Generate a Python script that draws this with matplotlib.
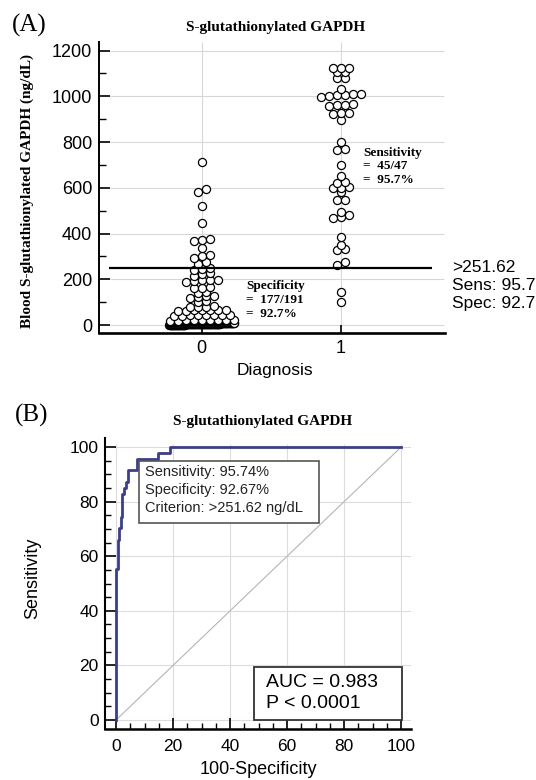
import matplotlib
matplotlib.use("Agg")
import matplotlib.pyplot as plt
import numpy as np
from matplotlib.patches import Rectangle
from matplotlib.ticker import MultipleLocator

SERIF = "Liberation Serif"
SANS = "Liberation Sans"
plt.rcParams["font.family"] = [SANS, "DejaVu Sans"]

# --- (A) dot plot data, ng/dL ---
# diagnosis 0 (191 subjects)
neg_high = [715, 580, 594, 521, 448, 366, 370, 378, 336, 294, 300, 306, 266, 274]
neg_mid = [242, 245, 248, 216, 222, 228, 190, 193, 195, 197, 199,
           160, 164, 166, 141, 145, 120, 122, 125, 128, 100, 104,
           77, 79, 81, 84, 62, 63, 64, 65, 66, 67, 68,
           40, 41, 42, 43, 44, 44, 45, 46,
           18, 19, 20, 21, 21, 22, 22, 23, 24]
neg_low = [0.4, 0.6, 0.8, 1.0, 1.1, 1.3, 1.5, 1.6, 1.8, 2.0,
           2.1, 2.2, 2.4, 2.5, 2.7, 2.8, 3.0, 3.1, 3.2, 3.4,
           3.5, 3.6, 3.8, 3.9, 4.0, 4.1, 4.3, 4.4, 4.5, 4.6,
           4.8, 4.9, 5.0, 5.1, 5.2, 5.4, 5.5, 5.6, 5.7, 5.8,
           6.0, 6.1, 6.2, 6.3, 6.5, 6.6, 6.7, 6.9, 7.0, 7.2,
           7.4, 7.6, 7.8, 8.0, 8.2, 8.5, 8.8, 9.1, 9.5, 9.9,
           0.5, 0.9, 1.2, 1.4, 1.9, 2.3, 2.6, 2.9, 3.3, 3.7,
           4.2, 4.7, 5.3, 5.9, 6.4, 6.8, 7.1, 7.5, 7.9, 8.3,
           0.7, 1.1, 1.7, 2.2, 2.8, 3.3, 3.9, 4.4, 5.0, 5.5,
           6.1, 6.6, 7.2, 7.7, 8.1, 8.6, 0.3, 1.3, 2.4, 3.6,
           4.5, 5.6, 6.7, 7.8, 0.6, 1.6, 2.6, 3.6, 4.6, 5.7,
           6.8, 7.9, 1.0, 2.0, 3.0, 4.0, 5.0, 6.0, 7.0, 8.0,
           1.5, 2.5, 3.5, 4.5, 5.5, 6.5, 7.5]
# diagnosis 1 (47 subjects)
pos = [1123, 1124, 1125, 1106, 1108, 1080, 1080, 1030,
       998, 1001, 1004, 1006, 1009, 1012, 958, 960, 962, 965,
       922, 925, 928, 895,
       800, 765, 770, 700, 650, 622, 627, 597, 600, 603, 580,
       545, 548, 496, 468, 474, 480, 387, 350, 330, 334,
       262, 275, 145, 100]
cutoff = 251.62

# --- (B) ROC curve ---
fpr = [0, 0, 0.52, 1.05, 1.57, 2.09, 2.62, 3.66, 4.19, 7.33, 14.66, 18.85, 100]
tpr = [0, 55.32, 65.96, 70.21, 74.47, 82.98, 85.11, 87.23, 91.49, 95.74, 97.87, 100, 100]


def swarm(values, row_h=15, step=0.0574, width=0.467):
    # MedCalc-like rows: close values share a row, spread sideways
    # values must be sorted ascending
    offs = np.zeros(len(values))
    rows, cur, start = [], [], None
    for i, v in enumerate(values):
        if cur and v - start < row_h:
            cur.append(i)
        else:
            if cur:
                rows.append(cur)
            cur, start = [i], v
    rows.append(cur)
    for r in rows:
        n = len(r)
        s = step if n == 1 else min(step, width / (n - 1))
        for k, i in enumerate(r):
            offs[i] = (k - (n - 1) / 2) * s
    return offs


def px(x, y):
    return x / 536, 1 - y / 780


fig = plt.figure(figsize=(5.36, 7.8), dpi=100)

# ---------------- (A) ----------------
ax1 = fig.add_axes([0.1847, 0.573, 0.6455, 0.3736])
ax1.set_xlim(-0.737, 1.747)
ax1.set_ylim(-35, 1239)
for s in ["top", "right"]:
    ax1.spines[s].set_visible(False)
ax1.spines["left"].set_linewidth(1.4)
ax1.spines["bottom"].set_linewidth(1.9)

ax1.yaxis.set_major_locator(MultipleLocator(200))
ax1.yaxis.set_minor_locator(MultipleLocator(100))
ax1.set_xticks([0, 1])
ax1.tick_params(axis="y", which="major", direction="in", length=8, width=1.2, pad=5, labelsize=13)
ax1.tick_params(axis="y", which="minor", direction="in", length=5, width=1.0)
ax1.tick_params(axis="x", direction="in", length=6, width=1.2, pad=5, labelsize=13)

ax1.hlines(np.arange(0, 1201, 200), -0.66, 1.74, color="#d8d8d8", lw=0.8, zorder=0)
ax1.vlines([0, 1], -35, 1239, color="#d8d8d8", lw=0.8, zorder=0)

neg = np.sort(neg_high + neg_mid + neg_low)
pos_s = np.sort(pos)
ax1.scatter(0 + swarm(neg), neg, s=34, facecolors="white", edgecolors="black",
            linewidths=0.9, zorder=3, clip_on=False)
ax1.scatter(1 + swarm(pos_s), pos_s, s=34, facecolors="white", edgecolors="black",
            linewidths=0.9, zorder=3, clip_on=False)
ax1.hlines(cutoff, -0.665, 1.653, color="black", lw=1.6, zorder=4)

ax1.text(1.16, 780, "Sensitivity\n=  45/47\n=  95.7%", fontfamily=SERIF, fontweight="bold",
         fontsize=9.5, va="top", ha="left", linespacing=1.2)
ax1.text(0.32, 197, "Specificity\n=  177/191\n=  92.7%", fontfamily=SERIF, fontweight="bold",
         fontsize=9.5, va="top", ha="left", linespacing=1.2)

ax1.text(1.797, cutoff, ">251.62", fontsize=12.5, va="center", ha="left", clip_on=False)
ax1.text(1.797, 175, "Sens: 95.7", fontsize=12.5, va="center", ha="left", clip_on=False)
ax1.text(1.797, 96, "Spec: 92.7", fontsize=12.5, va="center", ha="left", clip_on=False)

fig.text(*px(276, 28), "S-glutathionylated GAPDH", fontfamily=SERIF, fontweight="bold",
         fontsize=11, ha="center", va="center")
fig.text(*px(12, 25), "(A)", fontfamily=SERIF, fontsize=18, ha="left", va="center")
fig.text(*px(27, 191), "Blood S-glutathionylated GAPDH (ng/dL)", fontfamily=SERIF,
         fontweight="bold", fontsize=11, rotation=90, ha="center", va="center")
fig.text(*px(275, 370), "Diagnosis", fontsize=12.5, ha="center", va="center")

# ---------------- (B) ----------------
ax2 = fig.add_axes([0.196, 0.0654, 0.571, 0.373])
ax2.set_xlim(-3.86, 103.5)
ax2.set_ylim(-3.3, 103.3)
for s in ["top", "right"]:
    ax2.spines[s].set_visible(False)
ax2.spines["left"].set_linewidth(1.5)
ax2.spines["bottom"].set_linewidth(1.8)
for axis in [ax2.xaxis, ax2.yaxis]:
    axis.set_major_locator(MultipleLocator(20))
    axis.set_minor_locator(MultipleLocator(5))
ax2.set_xticks(np.arange(0, 101, 20))
ax2.set_yticks(np.arange(0, 101, 20))
ax2.tick_params(which="major", direction="in", length=8, width=1.2, labelsize=12.5)
ax2.tick_params(which="minor", direction="in", length=4.5, width=1.0)
ax2.tick_params(axis="x", pad=7)
ax2.tick_params(axis="y", pad=4.5)

for v in range(0, 101, 20):
    ax2.hlines(v, -1, 103.5, color="#dcdcdc", lw=0.8, zorder=0)
    ax2.vlines(v, -1, 101, color="#dcdcdc", lw=0.8, zorder=0)

ax2.plot([0, 100], [0, 100], color="#b5b5b5", lw=0.8, zorder=1)
ax2.plot(fpr, tpr, drawstyle="steps-post", color="#3a3d93", lw=2, zorder=3)

ax2.add_patch(Rectangle((8.1, 72.2), 63.1, 22.7, facecolor="white", edgecolor="#555555",
                        lw=1.2, zorder=4))
for yy, t in zip([90.8, 84.2, 77.7],
                 ["Sensitivity: 95.74%", "Specificity: 92.67%", "Criterion: >251.62 ng/dL"]):
    ax2.text(10.2, yy, t, fontsize=10.5, va="center", ha="left", color="#222222", zorder=5)

ax2.add_patch(Rectangle((48.5, 0), 51.8, 19.4, facecolor="white", edgecolor="#333333",
                        lw=1.3, zorder=4))
ax2.text(52.7, 13.9, "AUC = 0.983", fontsize=14, va="center", ha="left", zorder=5)
ax2.text(52.7, 6.2, "P < 0.0001", fontsize=14, va="center", ha="left", zorder=5)

fig.text(*px(263, 422), "S-glutathionylated GAPDH", fontfamily=SERIF, fontweight="bold",
         fontsize=11, ha="center", va="center")
fig.text(*px(15, 415), "(B)", fontfamily=SERIF, fontsize=18, ha="left", va="center")
fig.text(*px(33, 578), "Sensitivity", fontsize=13, rotation=90, ha="center", va="center")
fig.text(*px(258, 770), "100-Specificity", fontsize=13, ha="center", va="center")

fig.savefig("out.png", dpi=100)
